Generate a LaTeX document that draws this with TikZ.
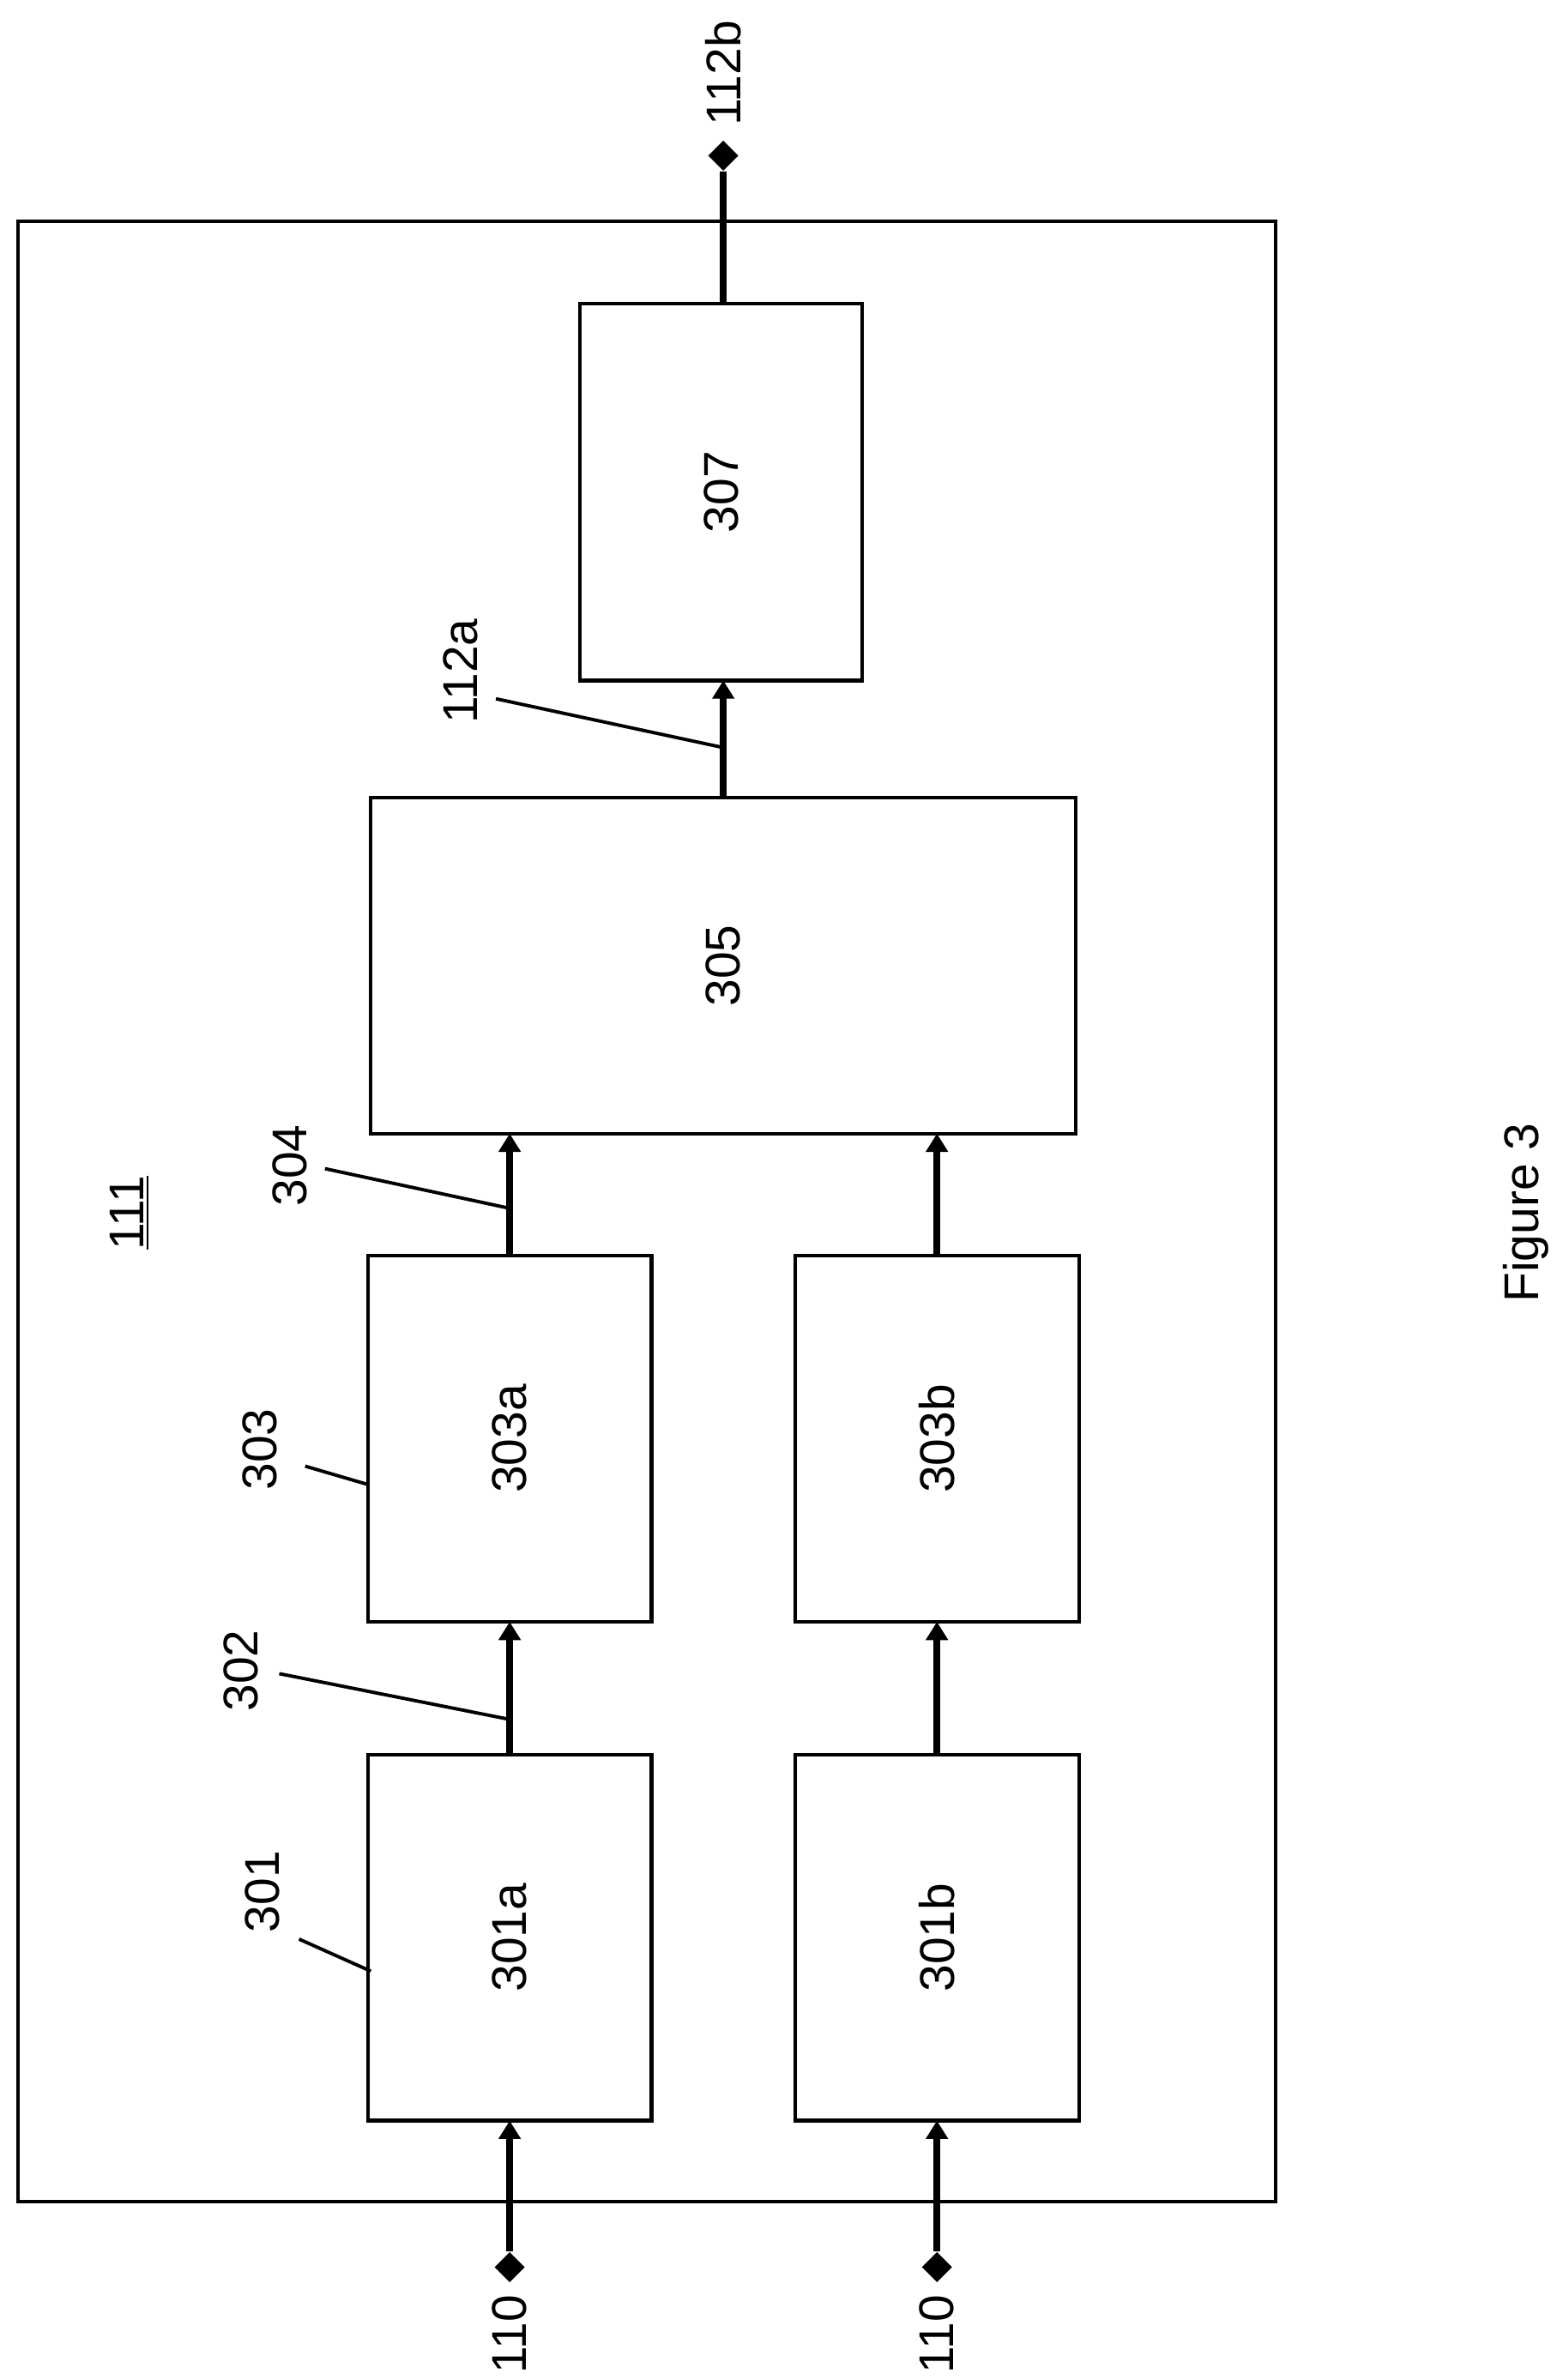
\documentclass[tikz,border=0pt]{standalone}
\usepackage{fontspec}
\setmainfont{Liberation Sans}
\usetikzlibrary{arrows.meta,shapes.geometric}
\begin{document}
\begin{tikzpicture}[x=0.5pt,y=-0.5pt,
  lab/.style={rotate=90,font=\fontsize{16}{18}\selectfont},
  sig/.style={line width=2.2pt,-{Triangle[width=7pt,length=6pt]}},
  lead/.style={line width=1.1pt},
  dia/.style={diamond,fill=black,inner sep=0,minimum size=10pt}]
\useasboundingbox (0,0) rectangle (1024,1560);
\draw[line width=1.2pt] (12,145) rectangle (836,1443);
\foreach \n/\xa/\ya/\xb/\yb/\t in {a1/241/1150/427/1390/301a,b1/521/1150/707/1390/301b,a3/241/823/427/1063/303a,b3/521/823/707/1063/303b,c5/243/523/705/743/305,d7/380/199/565/446/307}{
  \draw[line width=1.2pt] (\xa,\ya) rectangle (\xb,\yb);
  \node[lab] (\n) at ({(\xa+\xb)/2},{(\ya+\yb)/2}) {\t};
}
\coordinate (a1b) at (334,1390); \coordinate (a1t) at (334,1150);
\coordinate (a3b) at (334,1063); \coordinate (a3t) at (334,823);
\coordinate (c5a) at (334,743);
\coordinate (b1b) at (614,1390); \coordinate (b1t) at (614,1150);
\coordinate (b3b) at (614,1063); \coordinate (b3t) at (614,823);
\coordinate (c5b) at (614,743);
\coordinate (c5t) at (474,523); \coordinate (d7b) at (474,446); \coordinate (d7t) at (474,199);
\node[dia] (ina) at (334,1486) {};
\node[dia] (inb) at (614,1486) {};
\node[dia] (out) at (474,102) {};
\draw[sig] (ina.north) -- (a1b);
\draw[sig] (inb.north) -- (b1b);
\draw[sig] (a1t) -- (a3b);
\draw[sig] (b1t) -- (b3b);
\draw[sig] (a3t) -- (c5a);
\draw[sig] (b3t) -- (c5b);
\draw[sig] (c5t) -- (d7b);
\draw[line width=2.2pt] (d7t) -- (out.south);
\node[lab] (l110a) at (334,1530) {110};
\node[lab] (l110b) at (614,1530) {110};
\node[lab] (l112b) at (474,48) {112b};
\node[lab] (l111) at (85,795) {\underline{111}};
\node[lab] (fig) at (1000,795) {Figure 3};
\node[lab] (l301) at (172,1240) {301};
\node[lab] (l302) at (158,1095) {302};
\node[lab] (l303) at (170,950) {303};
\node[lab] (l304) at (190,764) {304};
\node[lab] (l112a) at (302,440) {112a};
\coordinate (p301) at (243,1292); \coordinate (p302) at (334,1127);
\coordinate (p303) at (241,973); \coordinate (p304) at (334,792); \coordinate (p112) at (474,490);
\draw[lead] (196,1271) -- (p301);
\draw[lead] (183,1097) -- (p302);
\draw[lead] (200,961) -- (p303);
\draw[lead] (213,766) -- (p304);
\draw[lead] (325,458) -- (p112);
\end{tikzpicture}
\end{document}
